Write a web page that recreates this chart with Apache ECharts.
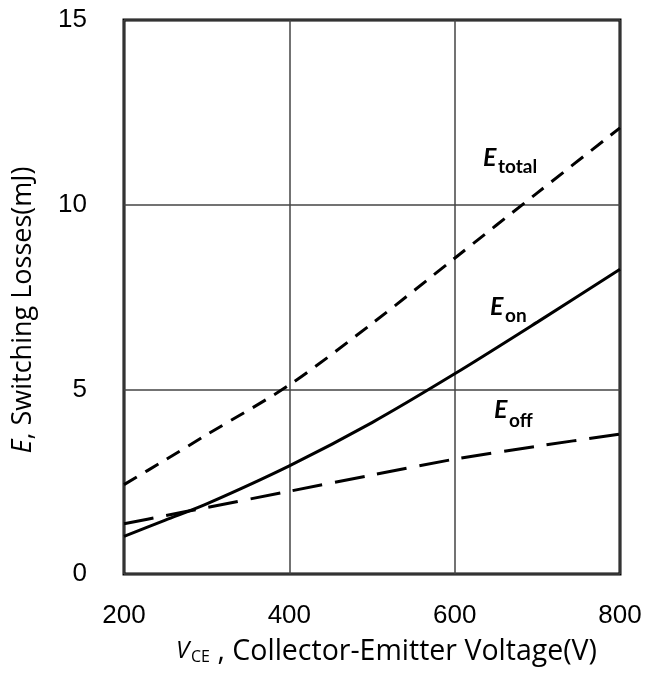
<!DOCTYPE html>
<html>
<head>
<meta charset="utf-8">
<script src="https://cdn.jsdelivr.net/npm/echarts@6/dist/echarts.min.js"></script>
<style>
html,body{margin:0;padding:0;background:#fff;}
#chart{width:646px;height:678px;}
</style>
</head>
<body>
<div id="chart"></div>
<script>
// Data
var voltages = [200, 250, 300, 400, 500, 600, 700, 800];
var eTotal   = [2.42, 3.09, 3.77, 5.12, 6.78, 8.55, 10.32, 12.08];
var eOn      = [1.02, 1.46, 1.90, 2.93, 4.10, 5.42, 6.82, 8.25];
var eOff     = [1.36, 1.58, 1.80, 2.24, 2.68, 3.11, 3.46, 3.79];
var xTicks = [200, 400, 600, 800];
var yTicks = [0, 5, 10, 15];

function pairs(xs, ys) { return xs.map(function (x, i) { return [x, ys[i]]; }); }

var chart = echarts.init(document.getElementById('chart'), null, {renderer: 'canvas'});
var labelFont = 'Lato, "Open Sans", sans-serif';
var titleFont = '"Open Sans", Lato, sans-serif';

var option = {
  animation: false,
  backgroundColor: '#fff',
  grid: {
    left: 124, right: 26, top: 20, bottom: 104,
    show: true, borderColor: '#000', borderWidth: 3, backgroundColor: 'transparent'
  },
  xAxis: {
    type: 'value', min: xTicks[0], max: xTicks[xTicks.length - 1], interval: 200,
    axisLine: {show: false}, axisTick: {show: false},
    splitLine: {show: true, lineStyle: {color: '#444', width: 1.5}},
    axisLabel: {color: '#000', fontSize: 26, fontFamily: '"Liberation Sans", Arial, sans-serif', margin: 29}
  },
  yAxis: {
    type: 'value', min: yTicks[0], max: yTicks[yTicks.length - 1], interval: 5,
    axisLine: {show: false}, axisTick: {show: false},
    splitLine: {show: true, lineStyle: {color: '#444', width: 1.5}},
    axisLabel: {color: '#000', fontSize: 26, fontFamily: '"Liberation Sans", Arial, sans-serif', margin: 37, padding: [2, 0, 0, 0]}
  },
  series: [
    {
      name: 'Etotal', type: 'line', data: pairs(voltages, eTotal), smooth: 0.3,
      showSymbol: false, symbol: 'none',
      lineStyle: {color: '#000', width: 3, type: [15, 10]}
    },
    {
      name: 'Eon', type: 'line', data: pairs(voltages, eOn), smooth: 0.3,
      showSymbol: false, symbol: 'none',
      lineStyle: {color: '#000', width: 3, type: 'solid'}
    },
    {
      name: 'Eoff', type: 'line', data: pairs(voltages, eOff), smooth: 0.3,
      showSymbol: false, symbol: 'none',
      lineStyle: {color: '#000', width: 3, type: [30, 13]}
    }
  ],
  graphic: [
    // curve labels
    {type: 'text', left: 483, top: 145, style: {text: 'E', font: 'italic bold 25px ' + labelFont, fill: '#000'}},
    {type: 'text', left: 498, top: 157, style: {text: 'total', font: 'bold 19px ' + labelFont, fill: '#000'}},
    {type: 'text', left: 490, top: 294, style: {text: 'E', font: 'italic bold 25px ' + labelFont, fill: '#000'}},
    {type: 'text', left: 505, top: 306, style: {text: 'on', font: 'bold 19px ' + labelFont, fill: '#000'}},
    {type: 'text', left: 494, top: 397, style: {text: 'E', font: 'italic bold 25px ' + labelFont, fill: '#000'}},
    {type: 'text', left: 509, top: 411, style: {text: 'off', font: 'bold 19px ' + labelFont, fill: '#000'}},
    // x-axis title
    {type: 'text', left: 176, top: 639, style: {text: 'V', font: 'italic 24px ' + titleFont, fill: '#000'}},
    {type: 'text', left: 191, top: 649, style: {text: 'CE', font: '16px ' + titleFont, fill: '#000'}},
    {type: 'text', right: 49, top: 637, style: {text: ', Collector-Emitter Voltage(V)', font: '28.5px ' + titleFont, fill: '#000'}},
    // y-axis title
    {
      type: 'text', x: 23, y: 310, rotation: Math.PI / 2,
      style: {
        text: '{i|E}{n|, Switching Losses(mJ)}',
        align: 'center', verticalAlign: 'middle',
        rich: {
          i: {font: 'italic 27px ' + titleFont, fill: '#000'},
          n: {font: '27px ' + titleFont, fill: '#000'}
        }
      }
    }
  ]
};
chart.setOption(option);
</script>
</body>
</html>
